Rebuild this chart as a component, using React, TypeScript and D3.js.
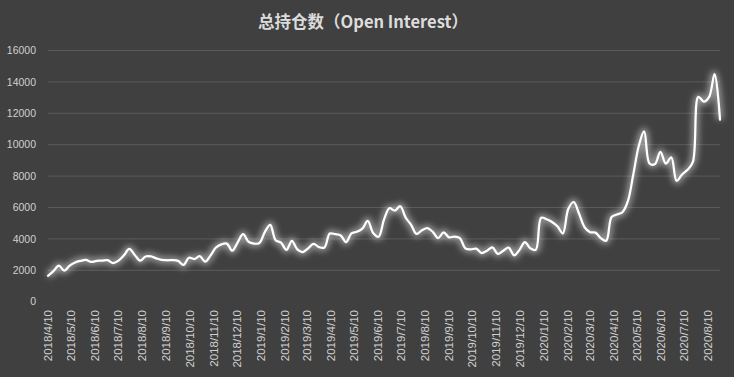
import React from "react";
import * as d3 from "d3";

const START_DATE = "2018-04-10";
const WEEK_STEP_DAYS = 7;
const openInterest: number[] = [
  1650, 1950, 2290, 1980, 2300, 2500, 2600, 2660, 2530, 2600,
  2620, 2650, 2460, 2620, 2950, 3360, 2980, 2610, 2880, 2880,
  2760, 2660, 2640, 2650, 2600, 2340, 2800, 2720, 2900, 2550,
  2950, 3450, 3650, 3700, 3250, 3780, 4300, 3820, 3700, 3740,
  4430, 4900, 3920, 3760, 3300, 3880, 3330, 3160, 3400, 3680,
  3480, 3450, 4340, 4300, 4220, 3800, 4350, 4450, 4650, 5150,
  4380, 4140, 5230, 5950, 5800, 6080, 5350, 4900, 4320, 4550,
  4680, 4450, 4050, 4420, 4100, 4150, 4050, 3400, 3330, 3380,
  3100, 3250, 3460, 3050, 3250, 3450, 2950, 3300, 3800, 3400,
  3300, 5350, 5250, 5080, 4800, 4350, 5900, 6350, 5600, 4750,
  4430, 4400, 4050, 3880, 5400, 5550, 5700, 6400, 8100, 9900,
  10850, 8800, 8770, 9550, 8800, 9200, 7700, 8100, 8400, 8900,
  13050, 12750, 13050, 14500, 11600,
];
const xTickLabels: string[] = [
  "2018/4/10", "2018/5/10", "2018/6/10", "2018/7/10", "2018/8/10", "2018/9/10",
  "2018/10/10", "2018/11/10", "2018/12/10", "2019/1/10", "2019/2/10", "2019/3/10",
  "2019/4/10", "2019/5/10", "2019/6/10", "2019/7/10", "2019/8/10", "2019/9/10",
  "2019/10/10", "2019/11/10", "2019/12/10", "2020/1/10", "2020/2/10", "2020/3/10",
  "2020/4/10", "2020/5/10", "2020/6/10", "2020/7/10", "2020/8/10",
];
const yTicks: number[] = [0, 2000, 4000, 6000, 8000, 10000, 12000, 14000, 16000];
const TITLE = "总持仓数（Open Interest）";

const W = 734;
const H = 377;

export default function App() {
  const parse = d3.timeParse("%Y-%m-%d");
  const parseTick = d3.timeParse("%Y/%m/%d");
  const start = parse(START_DATE) as Date;
  const data = openInterest.map((v, i) => ({
    date: d3.timeDay.offset(start, i * WEEK_STEP_DAYS),
    value: v,
  }));
  const x = d3
    .scaleTime()
    .domain([start, data[data.length - 1].date])
    .range([48, 720]);
  const y = d3.scaleLinear().domain([0, 16000]).range([301.7, 50.5]);
  const line = d3
    .line<{ date: Date; value: number }>()
    .x((d) => x(d.date))
    .y((d) => y(d.value))
    .curve(d3.curveCatmullRom.alpha(0.5));
  const path = line(data) || "";

  return (
    <svg
      width={W}
      height={H}
      style={{ position: "absolute", left: 0, top: 0, display: "block" }}
    >
      <defs>
        <filter id="glow" x="-10%" y="-20%" width="120%" height="140%">
          <feGaussianBlur stdDeviation="3" />
        </filter>
      </defs>
      <rect x={0} y={0} width={W} height={H} fill="#404040" />
      <text
        x={363}
        y={28}
        textAnchor="middle"
        fill="#dcdcdc"
        fontSize={16.5}
        fontWeight="bold"
        fontFamily="'Noto Sans CJK SC', sans-serif"
      >
        {TITLE}
      </text>
      {yTicks.map((t) => (
        <g key={t}>
          {t > 0 && (
            <line
              x1={48}
              x2={720}
              y1={y(t)}
              y2={y(t)}
              stroke="#5a5a5a"
              strokeWidth={1}
            />
          )}
          <text
            x={36}
            y={y(t)}
            dy="0.35em"
            textAnchor="end"
            fill="#d0d0d0"
            fontSize={10.5}
            fontFamily="'Liberation Sans', Arial, sans-serif"
          >
            {t}
          </text>
        </g>
      ))}
      {xTickLabels.map((lbl) => {
        const d = parseTick(lbl) as Date;
        const xx = x(d);
        return (
          <text
            key={lbl}
            transform={`translate(${xx},310) rotate(-90)`}
            dy="0.35em"
            textAnchor="end"
            fill="#d0d0d0"
            fontSize={11.5}
            fontFamily="'Liberation Sans', Arial, sans-serif"
          >
            {lbl}
          </text>
        );
      })}
      <path
        d={path}
        fill="none"
        stroke="#ffffff"
        strokeOpacity={0.45}
        strokeWidth={7}
        filter="url(#glow)"
      />
      <path
        d={path}
        fill="none"
        stroke="#ffffff"
        strokeWidth={2.25}
        strokeLinejoin="round"
        strokeLinecap="round"
      />
    </svg>
  );
}
